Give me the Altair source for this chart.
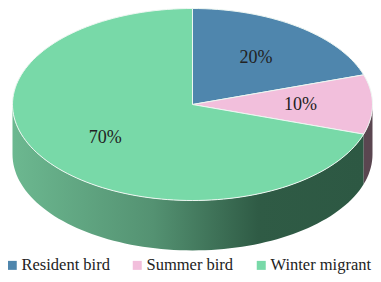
import math
import altair as alt
import pandas as pd

categories = ["Resident bird", "Summer bird", "Winter migrant"]
shares = [20, 10, 70]
colors = ["#4f86ad", "#f2bfdc", "#78d9a8"]
labels = ["20%", "10%", "70%"]

DEPTH = 0.52
LABEL_R = 0.6


def ell(deg):
    t = math.radians(deg)
    return math.sin(t), math.cos(t)


top_rows, label_rows = [], []
start = 0.0
for cat, share, lab in zip(categories, shares, labels):
    end = start + share * 3.6
    n = int(round((end - start) / 2)) + 1
    order = 0
    top_rows.append(dict(cat=cat, u=0.0, v=0.0, o=order))
    for i in range(n):
        order += 1
        u, v = ell(start + (end - start) * i / (n - 1))
        top_rows.append(dict(cat=cat, u=u, v=v, o=order))
    mu, mv = ell((start + end) / 2)
    label_rows.append(dict(u=mu * LABEL_R, v=mv * LABEL_R, text=lab))
    start = end


def wall(a, b):
    n = int(round((b - a) / 2)) + 1
    rows = []
    for i in range(n):
        u, v = ell(a + (b - a) * i / (n - 1))
        rows.append(dict(u=u, v=v, v2=v - DEPTH))
    return pd.DataFrame(rows)


x_scale = alt.Scale(domain=[-1.025, 1.0028], nice=False, zero=False)
y_scale = alt.Scale(domain=[-1.7656, 1.0052], nice=False, zero=False)
X = alt.X("u:Q", scale=x_scale, axis=None)
Y = alt.Y("v:Q", scale=y_scale, axis=None)

gradient = alt.Gradient(
    gradient="linear", x1=0, x2=1, y1=0, y2=0,
    stops=[
        alt.GradientStop(color="#6cb890", offset=0),
        alt.GradientStop(color="#549272", offset=0.4),
        alt.GradientStop(color="#2f5b45", offset=0.7),
        alt.GradientStop(color="#2d5843", offset=1),
    ],
)

green_wall = alt.Chart(wall(108, 270)).mark_area(color=gradient, line=False).encode(
    x=X, y=Y, y2="v2:Q"
)
pink_wall = alt.Chart(wall(90, 108)).mark_area(color="#5a4650").encode(
    x=X, y=Y, y2="v2:Q"
)
faces = alt.Chart(pd.DataFrame(top_rows)).mark_line(
    interpolate="linear-closed", stroke="#eef7f2", strokeWidth=1
).encode(
    x=X, y=Y, order="o:Q", detail="cat:N",
    fill=alt.Fill(
        "cat:N",
        scale=alt.Scale(domain=categories, range=colors),
        legend=alt.Legend(
            title=None, orient="none", legendX=-4, legendY=249,
            direction="horizontal", columns=3, columnPadding=19,
            symbolType="square", symbolSize=81, symbolStrokeWidth=0,
            labelFont="Liberation Serif", labelFontSize=16.5,
            labelColor="#222222", labelOffset=1, padding=0,
            symbolOpacity=1, labelLimit=200,
        ),
    ),
)
text = alt.Chart(pd.DataFrame(label_rows)).mark_text(
    font="Liberation Serif", fontSize=18, color="#222222"
).encode(x=X, y=Y, text="text:N")

chart = alt.layer(green_wall, pink_wall, faces, text).properties(
    width=365, height=266, padding=0,
    autosize=alt.AutoSizeParams(type="none"),
    background="white",
).configure_view(stroke=None)

chart.save("out.html", embed_options={"renderer": "svg", "actions": False})
